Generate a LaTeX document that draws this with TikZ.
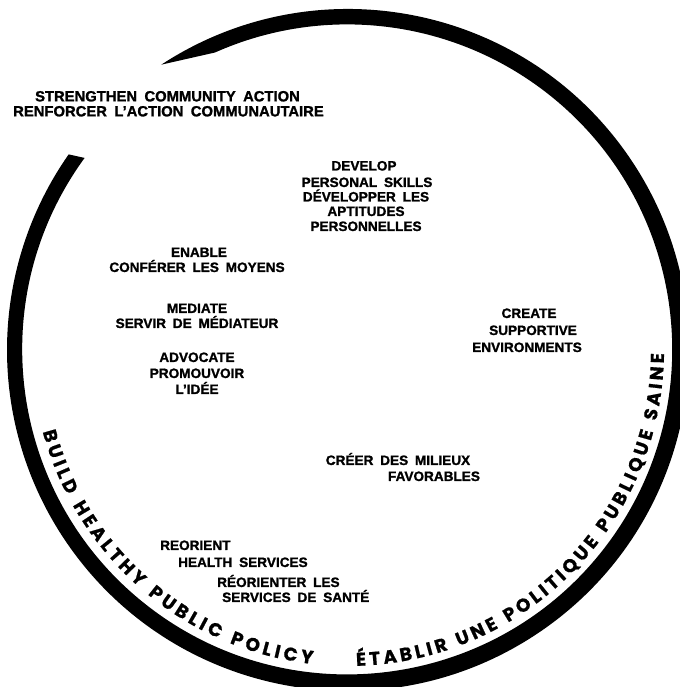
\documentclass[tikz,border=0pt]{standalone}
\usepackage{fontspec}
\setmainfont{Liberation Sans}[WordSpace=1.8, BoldFeatures={FakeBold=1.3}]
\newfontfamily\ringfont{Poppins}[BoldFeatures={FakeBold=0.8}]
\usetikzlibrary{decorations.text,calc}
\begin{document}
\begin{tikzpicture}[x=1pt,y=1pt,
  lbl/.style={inner sep=0pt, font=\bfseries\fontsize{13.6}{15}\selectfont, anchor=base},
  lblw/.style={lbl, anchor=base west},
  big/.style={lbl, font=\bfseries\fontsize{14.8}{17}\selectfont},
  ring/.style={fill=black},
  ringtext/.style={decorate, decoration={text along path, text align=fit to path,
     text={|\ringfont\bfseries\fontsize{18.5}{18.5}\selectfont|#1}}}]
\useasboundingbox (0,0) rectangle (679,687);
\coordinate (C) at (348,337);
\coordinate (tip) at ($(C)+(123.2:341)$);
% the open ring
\fill[ring] (tip) arc[start angle=123.2, end angle=-215, radius=341]
  -- ($(C)+(143.9:326)$) arc[start angle=-216.1, end angle=114, radius=325] -- cycle;
% text along the ring
\path[ringtext={BUILD HEALTHY PUBLIC POLICY}] ($(C)+(195:316)$) arc[start angle=195, end angle=263.5, radius=316];
\path[ringtext={ÉTABLIR UNE POLITIQUE PUBLIQUE SAINE}] ($(C)+(271.5:316)$) arc[start angle=271.5, end angle=359.3, radius=316];
% labels
\node[big] (s1) at (167.5,585.6) {STRENGTHEN COMMUNITY ACTION};
\node[big] (s2) at (168.5,570.6) {RENFORCER L’ACTION COMMUNAUTAIRE};
\node[lbl] (d1) at (364,516.5) {DEVELOP};
\node[lbl] (d2) at (367,500) {PERSONAL SKILLS};
\node[lbl] (d3) at (366,485.5) {DÉVELOPPER LES};
\node[lbl] (d4) at (366,471) {APTITUDES};
\node[lbl] (d5) at (366,456) {PERSONNELLES};
\node[lbl] (e1) at (199,430) {ENABLE};
\node[lbl] (e2) at (197,415) {CONFÉRER LES MOYENS};
\node[lbl] (m1) at (197,374) {MEDIATE};
\node[lbl] (m2) at (197,359) {SERVIR DE MÉDIATEUR};
\node[lbl] (a1) at (197,325) {ADVOCATE};
\node[lbl] (a2) at (197,309) {PROMOUVOIR};
\node[lbl] (a3) at (197,293) {L’IDÉE};
\node[lbl] (c1) at (529,369) {CREATE};
\node[lbl] (c2) at (533,352) {SUPPORTIVE};
\node[lbl] (c3) at (527,335) {ENVIRONMENTS};
\node[lbl] (f1) at (398,222) {CRÉER DES MILIEUX};
\node[lbl] (f2) at (434,206) {FAVORABLES};
\node[lblw] (r1) at (160,137) {REORIENT};
\node[lblw] (r2) at (178,120) {HEALTH SERVICES};
\node[lblw] (r3) at (217,100) {RÉORIENTER LES};
\node[lblw] (r4) at (222,85) {SERVICES DE SANTÉ};
\end{tikzpicture}
\end{document}
